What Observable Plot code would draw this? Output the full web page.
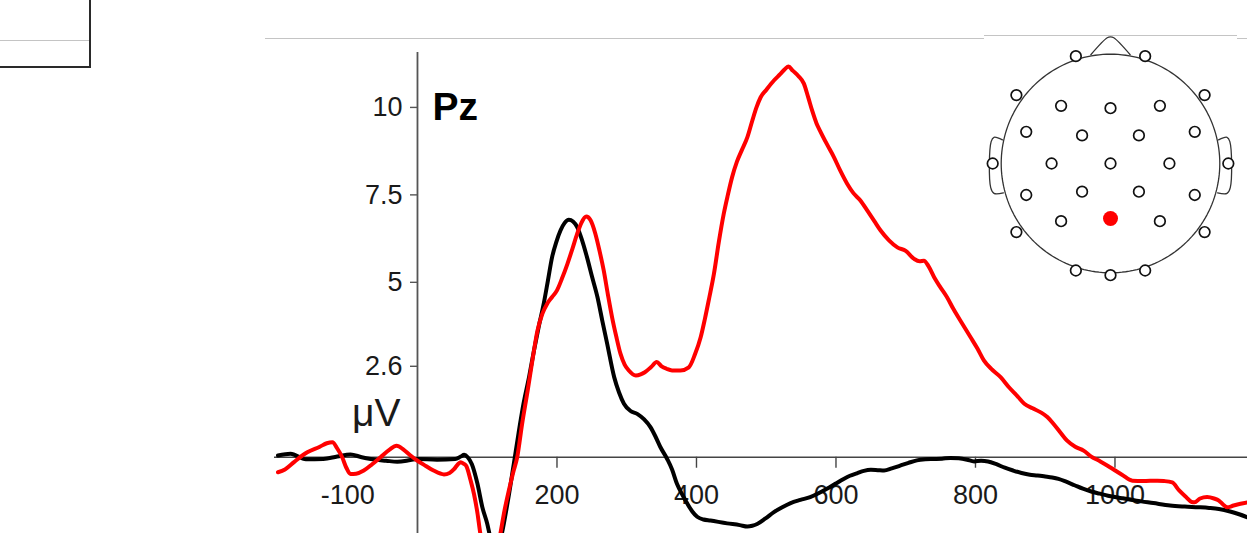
<!DOCTYPE html>
<html>
<head>
<meta charset="utf-8">
<script src="https://cdn.jsdelivr.net/npm/d3@7"></script>
<script src="https://cdn.jsdelivr.net/npm/@observablehq/plot@0.6"></script>
<style>
  html, body { margin: 0; padding: 0; background: #fff; }
  #wrap { position: relative; width: 1247px; height: 533px; overflow: hidden; background: #fff; }
  #chart svg { display: block; }
  #inset { position: absolute; left: 980px; top: 33.3px; }
  .edge { position: absolute; background: #c4c4c4; height: 1px; }
  #corner { position: absolute; left: 0; top: 0; width: 89px; height: 66px;
            border-right: 2px solid #2a2a2a; border-bottom: 2px solid #2a2a2a; }
</style>
</head>
<body>
<div id="wrap">
  <div id="chart"></div>
  <div id="corner"></div>
  <div class="edge" style="left:0;top:40px;width:89px"></div>
  <div class="edge" style="left:265px;top:38px;width:719px"></div>
  <div class="edge" style="left:984px;top:35px;width:253px"></div>
  <div class="edge" style="left:1237px;top:38px;width:10px"></div>
  <div id="inset"></div>
</div>
<script>
// Grand-average ERP at electrode Pz (time in ms, amplitude in µV)
const blackTimes = [-200, -182, -160, -135, -115, -96, -80, -67, -45, -29, -10, 0, 28, 54, 62, 67, 72, 78, 86, 93, 100, 105, 111, 116, 121, 130, 138, 145, 152, 160, 167, 174, 181, 187, 193, 199, 205, 211, 217, 223, 229, 236, 243, 250, 258, 265, 272, 282, 289, 296, 305, 315, 325, 334, 341, 348, 358, 365, 372, 380, 387, 394, 401, 410, 420, 444, 462, 473, 480, 487, 499, 511, 523, 535, 549, 563, 575, 587, 599, 611, 620, 630, 640, 650, 660, 669, 680, 692, 704, 716, 728, 740, 752, 764, 776, 788, 798, 808, 818, 830, 842, 854, 866, 878, 889, 900, 910, 919, 930, 942, 954, 966, 978, 990, 1010, 1031, 1055, 1079, 1100, 1120, 1135, 1149, 1165, 1178, 1190];
const blackValues = [0.05, 0.10, -0.06, -0.05, 0.02, 0.08, 0.0, -0.05, -0.10, -0.13, -0.08, -0.05, -0.07, -0.05, 0.02, 0.07, 0.0, -0.2, -0.76, -1.43, -1.9, -2.35, -2.75, -2.6, -2.18, -1.2, -0.2, 0.7, 1.53, 2.3, 3.05, 3.75, 4.39, 5.05, 5.72, 6.15, 6.48, 6.7, 6.79, 6.74, 6.58, 6.2, 5.72, 5.18, 4.58, 3.9, 3.24, 2.29, 1.85, 1.53, 1.33, 1.24, 1.08, 0.86, 0.6, 0.3, -0.05, -0.35, -0.76, -1.08, -1.33, -1.55, -1.70, -1.78, -1.81, -1.89, -1.94, -1.98, -1.96, -1.91, -1.75, -1.57, -1.43, -1.31, -1.22, -1.14, -1.03, -0.9, -0.76, -0.62, -0.53, -0.46, -0.39, -0.36, -0.37, -0.38, -0.32, -0.24, -0.16, -0.09, -0.06, -0.05, -0.04, -0.02, -0.03, -0.07, -0.12, -0.1, -0.12, -0.2, -0.3, -0.38, -0.45, -0.5, -0.52, -0.55, -0.58, -0.62, -0.7, -0.8, -0.9, -0.98, -1.04, -1.10, -1.17, -1.24, -1.31, -1.38, -1.41, -1.43, -1.45, -1.48, -1.55, -1.63, -1.72];

const redTimes = [-200, -190, -177, -165, -158, -140, -130, -122, -115, -108, -102, -96, -88, -77, -65, -53, -40, -30, -20, -10, 0, 12, 23, 38, 46, 52, 58, 62, 66, 70, 76, 81, 86, 90, 96, 104, 110, 115, 119, 125, 131, 137, 143, 150, 158, 165, 172, 179, 186, 193, 200, 207, 215, 222, 229, 235, 242, 248, 255, 261, 267, 273, 279, 285, 291, 297, 303, 313, 320, 326, 335, 343, 350, 357, 365, 377, 389, 398, 406, 412, 418, 425, 432, 439, 445, 451, 458, 465, 473, 480, 486, 492, 500, 511, 520, 527, 532, 538, 546, 554, 560, 566, 572, 577, 587, 597, 606, 616, 625, 635, 645, 655, 664, 676, 688, 700, 712, 720, 726, 733, 742, 750, 759, 768, 780, 793, 803, 812, 824, 836, 848, 860, 870, 882, 893, 903, 912, 922, 931, 943, 955, 966, 979, 990, 998, 1010, 1025, 1040, 1061, 1070, 1082, 1092, 1102, 1110, 1114, 1122, 1132, 1142, 1149, 1155, 1161, 1170, 1180, 1190];
const redValues = [-0.43, -0.35, -0.14, 0.05, 0.14, 0.3, 0.4, 0.43, 0.25, 0.0, -0.3, -0.48, -0.47, -0.38, -0.2, 0.0, 0.22, 0.33, 0.22, 0.05, -0.1, -0.25, -0.38, -0.49, -0.45, -0.35, -0.2, -0.14, -0.18, -0.25, -0.65, -1.05, -1.6, -2.17, -2.7, -3.1, -3.0, -2.6, -2.17, -1.5, -0.95, -0.45, 0.0, 0.95, 1.91, 2.8, 3.62, 4.1, 4.39, 4.58, 4.77, 5.1, 5.53, 5.95, 6.39, 6.7, 6.88, 6.78, 6.39, 5.9, 5.34, 4.65, 4.0, 3.45, 2.96, 2.65, 2.48, 2.34, 2.37, 2.43, 2.58, 2.72, 2.6, 2.53, 2.48, 2.48, 2.57, 2.95, 3.43, 3.95, 4.53, 5.24, 6.15, 6.95, 7.5, 8.0, 8.45, 8.78, 9.15, 9.62, 10.0, 10.29, 10.5, 10.77, 10.95, 11.1, 11.17, 11.05, 10.9, 10.68, 10.3, 9.9, 9.55, 9.34, 8.95, 8.58, 8.2, 7.82, 7.55, 7.34, 7.05, 6.75, 6.48, 6.2, 6.0, 5.9, 5.67, 5.6, 5.62, 5.45, 5.1, 4.85, 4.58, 4.25, 3.85, 3.43, 3.1, 2.77, 2.5, 2.29, 2.0, 1.75, 1.53, 1.4, 1.29, 1.15, 0.95, 0.7, 0.48, 0.3, 0.19, 0.02, -0.12, -0.25, -0.35, -0.5, -0.67, -0.68, -0.67, -0.68, -0.72, -0.95, -1.14, -1.28, -1.29, -1.18, -1.14, -1.18, -1.24, -1.35, -1.43, -1.38, -1.33, -1.29];

// Axis ticks and labels
const xTickMarks = [200, 400, 600, 800, 1000];
const xTickLabels = [-100, 200, 400, 600, 800, 1000];
const yTickValues = [2.6, 5, 7.5, 10];
const yTickLabels = ["2.6", "5", "7.5", "10"];
const channelName = "Pz";
const unitLabel = "μV";

// Electrode montage (unit-circle head coordinates, nose up)
const electrodeNames = ["Fp1", "Fp2", "F7", "F3", "Fz", "F4", "F8", "FC5", "FC1", "FC2", "FC6", "T7", "C3", "Cz", "C4", "T8", "CP5", "CP1", "CP2", "CP6", "P7", "P3", "Pz", "P4", "P8", "O1", "Oz", "O2"];
const electrodeX = [-0.317, 0.317, -0.861, -0.452, 0, 0.452, 0.861, -0.771, -0.26, 0.26, 0.771, -1.078, -0.539, 0, 0.539, 1.078, -0.771, -0.26, 0.26, 0.771, -0.861, -0.452, 0, 0.452, 0.861, -0.317, 0, 0.317];
const electrodeY = [0.982, 0.982, 0.626, 0.528, 0.506, 0.528, 0.626, 0.29, 0.257, 0.257, 0.29, 0, 0, 0, 0, 0, -0.288, -0.258, -0.258, -0.288, -0.627, -0.528, -0.503, -0.528, -0.627, -0.979, -1.022, -0.979];

const black = blackTimes.map((t, i) => ({t, v: blackValues[i]}));
const red = redTimes.map((t, i) => ({t, v: redValues[i]}));

const font = "'Liberation Sans', Arial, sans-serif";
const axisColor = "#555";

const chart = Plot.plot({
  width: 1247,
  height: 533,
  marginLeft: 274,
  marginRight: 0,
  marginTop: 52,
  marginBottom: 0,
  x: {domain: [-205, 1190], axis: null},
  y: {domain: [-2.18, 11.57], axis: null},
  style: {fontFamily: font, background: "white", overflow: "hidden", color: "#1a1a1a"},
  marks: [
    // zero line and vertical amplitude axis at stimulus onset
    Plot.ruleY([0], {stroke: "#444", strokeWidth: 1.4}),
    Plot.ruleX([0], {stroke: axisColor, strokeWidth: 1.8}),
    // time ticks hang below the zero line
    Plot.ruleX(xTickMarks, {x: d => d, y1: 0, y2: 0, insetBottom: -11, stroke: "#444", strokeWidth: 1.4}),
    Plot.text(xTickLabels, {x: d => d, y: 0, text: d => String(d), dy: 38, fontSize: 27}),
    // amplitude ticks
    Plot.ruleY(yTickValues, {y: d => d, x1: 0, x2: 0, insetLeft: -7, stroke: axisColor, strokeWidth: 1.4}),
    Plot.text(yTickValues, {x: 0, y: d => d, text: (d, i) => yTickLabels[i], textAnchor: "end", dx: -15, fontSize: 27}),
    Plot.text([unitLabel], {x: 0, y: 0.906, text: d => d, textAnchor: "end", lineAnchor: "bottom", dx: -17, fontSize: 39}),
    Plot.text([channelName], {x: 0, y: 9.63, text: d => d, textAnchor: "start", lineAnchor: "bottom", dx: 15, fontSize: 39, fontWeight: "bold", fill: "#000"}),
    // waveforms
    Plot.line(black, {x: "t", y: "v", stroke: "#000", strokeWidth: 4, curve: "monotone-x"}),
    Plot.line(red, {x: "t", y: "v", stroke: "#ff0000", strokeWidth: 4, curve: "monotone-x"})
  ]
});
document.getElementById("chart").append(chart);

// Head map showing the selected electrode
const outline = d3.range(0, 361, 2).map(a => ({x: Math.cos(a * Math.PI / 180), y: Math.sin(a * Math.PI / 180)}));
const nose = [{x: -0.18, y: 0.995}, {x: -0.03, y: 1.15}, {x: 0, y: 1.158}, {x: 0.03, y: 1.15}, {x: 0.18, y: 0.995}];
const leftEar = [{x: -0.989, y: 0.216}, {x: -1.066, y: 0.24}, {x: -1.092, y: 0.2}, {x: -1.096, y: -0.22}, {x: -1.066, y: -0.273}, {x: -0.98, y: -0.268}];
const rightEar = leftEar.map(p => ({x: -p.x, y: p.y}));
const electrodes = electrodeNames.map((name, i) => ({name, x: electrodeX[i], y: electrodeY[i]}));

const head = Plot.plot({
  width: 260,
  height: 260,
  margin: 0,
  x: {domain: [-1.1894, 1.1894], axis: null},
  y: {domain: [-1.1894, 1.1894], axis: null},
  style: {background: "transparent", overflow: "visible"},
  marks: [
    Plot.line(outline, {x: "x", y: "y", stroke: "#333", strokeWidth: 1.3}),
    Plot.line(nose, {x: "x", y: "y", stroke: "#333", strokeWidth: 1.3, curve: "catmull-rom"}),
    Plot.line(leftEar, {x: "x", y: "y", stroke: "#333", strokeWidth: 1.3, curve: "catmull-rom"}),
    Plot.line(rightEar, {x: "x", y: "y", stroke: "#333", strokeWidth: 1.3, curve: "catmull-rom"}),
    Plot.dot(electrodes.filter(d => d.name !== channelName), {x: "x", y: "y", r: 5.3, fill: "white", stroke: "#111", strokeWidth: 1.7}),
    Plot.dot(electrodes.filter(d => d.name === channelName), {x: "x", y: "y", r: 7.5, fill: "#ff0000", stroke: "none"})
  ]
});
document.getElementById("inset").append(head);
</script>
</body>
</html>
